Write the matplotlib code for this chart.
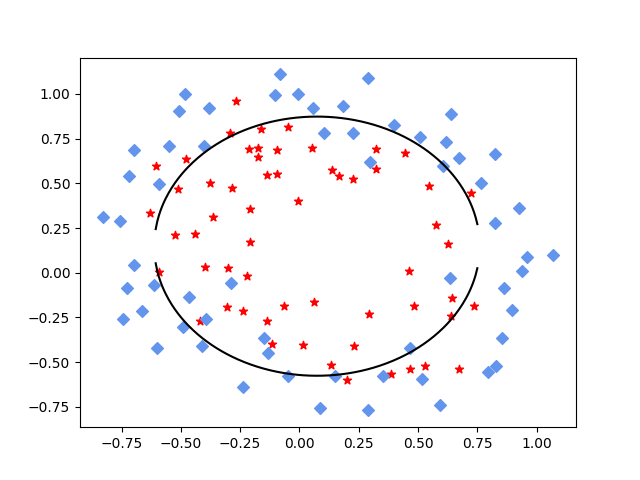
import numpy as np
import matplotlib
matplotlib.use("Agg")
import matplotlib.pyplot as plt

# accepted chips (red stars)
pos_x = [0.051267, -0.092742, -0.21371, -0.375, -0.51325, -0.52477, -0.39804,
         -0.30588, 0.016705, 0.13191, 0.38537, 0.52938, 0.63882, 0.73675,
         0.54666, 0.322, 0.16647, -0.046659, -0.17339, -0.47869, -0.60541,
         -0.62846, -0.59389, -0.42108, -0.11578, 0.20104, 0.46601, 0.67339,
         -0.13882, -0.29435, -0.26555, -0.16187, -0.17339, -0.28283, -0.36348,
         -0.30012, -0.23675, -0.06394, 0.062788, 0.22984, 0.2932, 0.48329,
         0.64459, 0.46025, 0.6273, 0.57546, 0.72523, 0.22408, 0.44297, 0.322,
         0.13767, -0.0063364, -0.092742, -0.20795, -0.20795, -0.43836,
         -0.21947, -0.13882]
pos_y = [0.69956, 0.68494, 0.69225, 0.50219, 0.46564, 0.2098, 0.034357,
         -0.19225, -0.40424, -0.51389, -0.56506, -0.5212, -0.24342, -0.18494,
         0.48757, 0.5826, 0.53874, 0.81652, 0.69956, 0.63377, 0.59722,
         0.33406, 0.005117, -0.27266, -0.39693, -0.60161, -0.53582, -0.53582,
         0.54605, 0.77997, 0.96272, 0.8019, 0.64839, 0.47295, 0.31213,
         0.027047, -0.21418, -0.18494, -0.16301, -0.41155, -0.2288, -0.18494,
         -0.14108, 0.012427, 0.15863, 0.26827, 0.44371, 0.52412, 0.67032,
         0.69225, 0.57529, 0.39985, 0.55336, 0.35599, 0.17325, 0.21711,
         -0.016813, -0.27266]

# rejected chips (blue diamonds)
neg_x = [0.18376, 0.22408, 0.29896, 0.50634, 0.61578, 0.60426, 0.76555,
         0.92684, 0.82316, 0.96141, 0.93836, 0.86348, 0.89804, 0.85196,
         0.82892, 0.79435, 0.59274, 0.51786, 0.46601, 0.35081, 0.28744,
         0.085829, 0.14919, -0.13306, -0.40956, -0.39228, -0.74366, -0.69758,
         -0.75518, -0.69758, -0.4038, -0.38076, -0.50749, -0.54781, 0.10311,
         0.057028, -0.10426, -0.081221, 0.28744, 0.39689, 0.63882, 0.82316,
         0.67339, 1.0709, -0.046659, -0.23675, -0.15035, -0.49021, -0.46717,
         -0.28859, -0.61118, -0.66302, -0.59965, -0.72638, -0.83007, -0.72062,
         -0.59389, -0.48445, -0.0063364, 0.63265]
neg_y = [0.93348, 0.77997, 0.61915, 0.75804, 0.7288, 0.59722, 0.50219,
         0.3633, 0.27558, 0.085526, 0.012427, -0.082602, -0.20687, -0.36769,
         -0.5212, -0.55775, -0.7405, -0.5943, -0.41886, -0.57968, -0.76974,
         -0.75512, -0.57968, -0.4481, -0.41155, -0.25804, -0.25804, 0.041667,
         0.2902, 0.68494, 0.70687, 0.91886, 0.90424, 0.70687, 0.77997,
         0.91886, 0.99196, 1.1089, 1.087, 0.82383, 0.88962, 0.66301,
         0.64108, 0.10015, -0.57968, -0.63816, -0.36769, -0.3019, -0.13377,
         -0.0599, -0.067982, -0.21418, -0.41886, -0.082602, 0.31213, 0.53874,
         0.49488, 0.99927, 0.99927, -0.030612]

# decision boundary (ellipse fitted by eye)
cx, cy = 0.074, 0.1485
ax_a, ax_b = 0.686, 0.7245
x_left, x_right = -0.606, 0.750

fig, ax = plt.subplots(figsize=(6.4, 4.8), dpi=100)
ax.scatter(pos_x, pos_y, marker="*", c="r")
ax.scatter(neg_x, neg_y, marker="D", c="cornflowerblue")

xs = np.linspace(x_left, x_right, 200)
half = ax_b * np.sqrt(np.clip(1 - ((xs - cx) / ax_a) ** 2, 0, None))
ax.plot(xs, cy + half, "k-")
ax.plot(xs, cy - half, "k-")

fig.savefig("out.png")
